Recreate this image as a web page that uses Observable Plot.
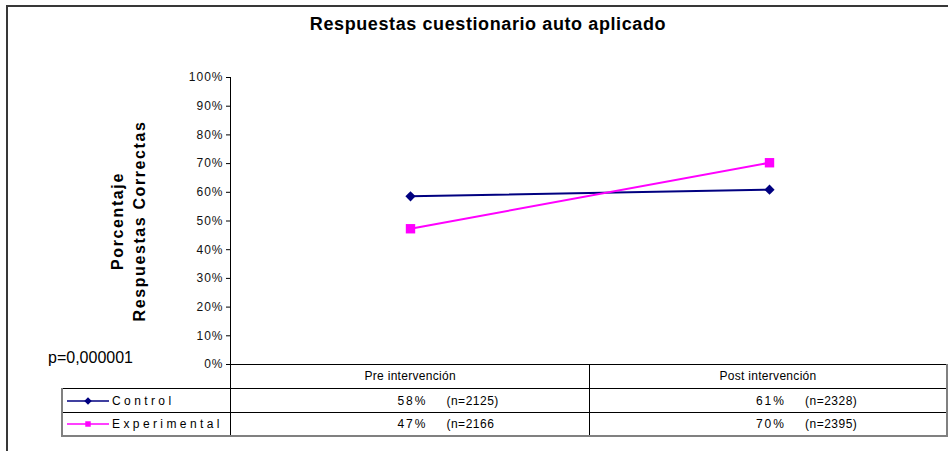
<!DOCTYPE html>
<html>
<head>
<meta charset="utf-8">
<script src="https://cdn.jsdelivr.net/npm/d3@7"></script>
<script src="https://cdn.jsdelivr.net/npm/@observablehq/plot@0.6"></script>
<style>
  body { margin: 0; background: #fff; }
  #wrap { position: relative; width: 948px; height: 451px; overflow: hidden; background: #fff;
          font-family: "Liberation Sans", Arial, sans-serif; color: #000; }
  #frame { position: absolute; left: 6px; top: 5px; width: 1000px; height: 1000px;
           border-left: 2px solid #383838; border-top: 2px solid #383838; }
  #title { position: absolute; left: 0; top: 14px; width: 976px; text-align: center;
           font-weight: bold; font-size: 18px; line-height: 20px; letter-spacing: 0.6px; }
  #chart { position: absolute; left: 0; top: 0; }
  #chart svg g[aria-label^="y-axis"] text { letter-spacing: 1px; fill: #111; }
  #chart svg g[aria-label="text"] text { letter-spacing: 1.6px; }
  #pval { position: absolute; left: 48px; top: 348px; font-size: 16px; line-height: 20px; }
  #tbl { position: absolute; left: 61px; top: 364px; border-collapse: collapse; table-layout: fixed;
         font-size: 12px; }
  #tbl td { padding: 0; white-space: nowrap; overflow: visible; }
  #tbl tr.h td { height: 24px; text-align: center; letter-spacing: 0.3px; border-right: 1px solid #000; }
  #tbl tr.h td.lab { border: none; border-right: 1px solid #000; }
  #tbl tr.b td { border-top: 1px solid #000; border-right: 1px solid #000; height: 23px; }
  #tbl tr.b.last td { height: 22px; border-bottom: 2px solid #808080; }
  #tbl tr.b td.lab { border-left: 2px solid #808080; padding-left: 3px; }
  #tbl td.lastcol { border-right: 2px solid #808080 !important; }
  #tbl .v { display: inline-block; width: 196px; text-align: right; letter-spacing: 2px; }
  #tbl .n { margin-left: 19px; letter-spacing: 0.5px; }
  #tbl .sw { vertical-align: middle; }
  #tbl .nm { margin-left: 2px; letter-spacing: 3.4px; vertical-align: middle; }
</style>
</head>
<body>
<div id="wrap">
  <div id="frame"></div>
  <div id="title"></div>
  <div id="chart"></div>
  <div id="pval"></div>
</div>
<script>
// ---- data ----
const titleText = "Respuestas cuestionario auto aplicado";
const yLabelLines = ["Porcentaje", "Respuestas Correctas"];
const pValueText = "p=0,000001";
const phases = ["Pre intervención", "Post intervención"];
const seriesNames = ["Control", "Experimental"];
const controlValues = [0.586, 0.609];
const experimentalValues = [0.473, 0.703];
const controlPctLabels = ["58%", "61%"];
const controlNLabels = ["(n=2125)", "(n=2328)"];
const experimentalPctLabels = ["47%", "70%"];
const experimentalNLabels = ["(n=2166", "(n=2395)"];
const yTicks = [0, 0.1, 0.2, 0.3, 0.4, 0.5, 0.6, 0.7, 0.8, 0.9, 1];
const seriesColors = ["#000080", "#FF00FF"];

// ---- build ----
const W = 948, ML = 230, MR = 0;
const valuesBySeries = [controlValues, experimentalValues];
const pctBySeries = [controlPctLabels, experimentalPctLabels];
const nBySeries = [controlNLabels, experimentalNLabels];
const seriesSymbols = [d3.symbolDiamond2, d3.symbolSquare];
const seriesR = [4.6, 5.3];

document.getElementById("title").textContent = titleText;
document.getElementById("pval").textContent = pValueText;

const rows = seriesNames.flatMap((s, si) => phases.map((p, pi) => ({series: s, phase: p, value: valuesBySeries[si][pi]})));

const marks = [
  Plot.ruleY([0], {stroke: "#000", strokeWidth: 1}),
  Plot.text([yLabelLines.join("\n")], {
    frameAnchor: "left", textAnchor: "middle", dx: -104, rotate: -90, fontSize: 16, fontWeight: "bold",
    lineHeight: 1.375, fill: "#000"
  })
];
seriesNames.forEach((s, si) => {
  const d = rows.filter(r => r.series === s);
  marks.push(Plot.line(d, {x: "phase", y: "value", stroke: seriesColors[si], strokeWidth: 2}));
  marks.push(Plot.dot(d, {x: "phase", y: "value", fill: seriesColors[si], stroke: "none",
    symbol: () => seriesSymbols[si], r: seriesR[si]}));
});

const plot = Plot.plot({
  width: W, height: 365,
  marginTop: 77, marginBottom: 1, marginLeft: ML, marginRight: MR,
  style: {fontFamily: "'Liberation Sans', Arial, sans-serif", fontSize: "12px", overflow: "visible", background: "transparent", color: "#000"},
  x: {type: "point", domain: phases, padding: 0.5, axis: null},
  y: {domain: [0, 1], ticks: yTicks, tickFormat: d3.format(".0%"), tickSize: 4, tickPadding: 3, label: null, line: true},
  symbol: {domain: seriesNames, range: seriesSymbols},
  marks
});
document.getElementById("chart").appendChild(plot);

// ---- data table (legend + category labels) ----
const colW = (W - ML - MR) / phases.length;
const tbl = document.createElement("table");
tbl.id = "tbl";
const cg = document.createElement("colgroup");
[ML - 61, ...phases.map(() => colW)].forEach((w, i) => {
  const c = document.createElement("col");
  c.style.width = (i === phases.length ? w - 1 : w) + "px";
  cg.appendChild(c);
});
tbl.appendChild(cg);
const hr = document.createElement("tr");
hr.className = "h";
const h0 = document.createElement("td"); h0.className = "lab"; hr.appendChild(h0);
phases.forEach((p, i) => {
  const td = document.createElement("td");
  td.textContent = p;
  if (i === phases.length - 1) td.className = "lastcol";
  hr.appendChild(td);
});
tbl.appendChild(hr);
seriesNames.forEach((s, si) => {
  const tr = document.createElement("tr");
  tr.className = "b" + (si === seriesNames.length - 1 ? " last" : "");
  const lab = document.createElement("td");
  lab.className = "lab";
  const ns = "http://www.w3.org/2000/svg";
  const sw = document.createElementNS(ns, "svg");
  sw.setAttribute("width", 44); sw.setAttribute("height", 12); sw.setAttribute("class", "sw");
  const ln = document.createElementNS(ns, "line");
  ln.setAttribute("x1", 1); ln.setAttribute("x2", 43); ln.setAttribute("y1", 6); ln.setAttribute("y2", 6);
  ln.setAttribute("stroke", seriesColors[si]); ln.setAttribute("stroke-width", 1.5);
  sw.appendChild(ln);
  const mk = document.createElementNS(ns, "path");
  mk.setAttribute("d", d3.symbol(seriesSymbols[si], si === 0 ? 36 : 30)());
  mk.setAttribute("transform", "translate(22,6)");
  mk.setAttribute("fill", seriesColors[si]);
  sw.appendChild(mk);
  lab.appendChild(sw);
  const nm = document.createElement("span");
  nm.className = "nm"; nm.textContent = s;
  lab.appendChild(nm);
  tr.appendChild(lab);
  phases.forEach((p, pi) => {
    const td = document.createElement("td");
    if (pi === phases.length - 1) td.className = "lastcol";
    const v = document.createElement("span"); v.className = "v"; v.textContent = pctBySeries[si][pi];
    const n = document.createElement("span"); n.className = "n"; n.textContent = nBySeries[si][pi];
    td.appendChild(v); td.appendChild(n);
    tr.appendChild(td);
  });
  tbl.appendChild(tr);
});
document.getElementById("wrap").appendChild(tbl);
</script>
</body>
</html>
